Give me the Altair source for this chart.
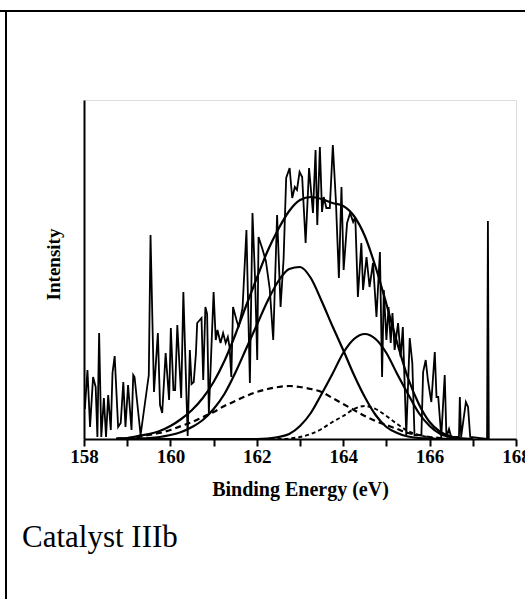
import altair as alt
import pandas as pd

# ---- noisy spectrum (binding energy eV, intensity) ----
spec_ev = [158.02, 158.08, 158.14, 158.21, 158.27, 158.31, 158.35, 158.40, 158.46, 158.51,
           158.56, 158.62, 158.66, 158.71, 158.79, 158.85, 158.91, 158.96, 159.02, 159.10,
           159.14, 159.17, 159.31, 159.50, 159.54, 159.62, 159.71, 159.76, 159.81, 159.89,
           159.97, 160.01, 160.07, 160.11, 160.16, 160.25, 160.30, 160.40, 160.45, 160.49,
           160.54, 160.59, 160.62, 160.68, 160.72, 160.76, 160.81, 160.85, 160.89, 161.00,
           161.05, 161.09, 161.16, 161.22, 161.28, 161.33, 161.37, 161.41, 161.45, 161.53,
           161.58, 161.67, 161.76, 161.84, 161.90, 161.96, 162.01, 162.04, 162.13, 162.21,
           162.30, 162.38, 162.47, 162.55, 162.62, 162.68, 162.76, 162.82, 162.88, 162.93,
           162.99, 163.05, 163.13, 163.21, 163.30, 163.36, 163.40, 163.46, 163.51, 163.55,
           163.61, 163.69, 163.76, 163.83, 163.90, 163.96, 164.01, 164.09, 164.16, 164.23,
           164.28, 164.34, 164.42, 164.46, 164.54, 164.61, 164.69, 164.77, 164.85, 164.90,
           164.94, 165.00, 165.05, 165.10, 165.14, 165.19, 165.27, 165.33, 165.38, 165.46,
           165.54, 165.60, 165.65, 165.81, 165.85, 165.91, 165.96, 166.04, 166.12, 166.16,
           166.20, 166.27, 166.35, 166.39, 166.45, 166.50, 166.68, 166.70, 166.73, 166.84,
           166.89, 166.94, 167.33, 167.35, 167.37]
spec_int = [30, 69, 12, 62, 52, 2, 106, 2, 41, 2,
            44, 9, 66, 83, 12, 16, 57, 12, 54, 9,
            64, 62, 4, 64, 204, 47, 106, 34, 26, 86,
            39, 111, 49, 49, 114, 41, 147, 3, 89, 55,
            57, 85, 116, 119, 121, 59, 132, 125, 26, 147,
            99, 109, 96, 106, 96, 102, 92, 62, 132, 119,
            112, 131, 209, 56, 226, 160, 79, 202, 190, 178,
            150, 99, 224, 132, 180, 261, 271, 241, 252, 249,
            267, 262, 196, 271, 226, 289, 214, 292, 227, 242,
            231, 231, 294, 239, 161, 252, 169, 216, 226, 217,
            222, 142, 196, 149, 182, 152, 176, 122, 187, 62,
            149, 99, 132, 96, 126, 89, 116, 82, 112, 4,
            101, 76, 4, 4, 67, 79, 59, 37, 87, 42,
            42, 2, 64, 2, 10, 2, 2, 42, 2, 37,
            32, 2, 0, 218, 0]

# ---- fitted curves, read every 0.25 eV ----
fit_ev = [158.75, 159.0, 159.25, 159.5, 159.75, 160.0, 160.25, 160.5, 160.75, 161.0,
          161.25, 161.5, 161.75, 162.0, 162.25, 162.5, 162.75, 163.0, 163.25, 163.5,
          163.75, 164.0, 164.25, 164.5, 164.75, 165.0, 165.25, 165.5, 165.75, 166.0,
          166.25, 166.5, 166.75, 167.0]
envelope = [0.5, 1, 3, 5, 8, 13, 20, 29, 41, 57,
            78, 104, 133, 161, 188, 210, 228, 239, 242, 240,
            236, 233, 223, 203, 172, 135, 96, 61, 35, 17,
            7, 2.5, 0.5, 0]
peak_a = [0, 0.3, 0.6, 1, 2, 4, 7, 12, 19, 30,
          45, 66, 90, 114, 138, 158, 170, 172, 161, 138,
          113, 89, 64, 42, 24, 12, 6, 2.5, 1, 0.4,
          0.2, 0, 0, 0]
peak_b = [0, 0, 0, 0, 0, 0, 0, 0, 0, 0,
          0, 0, 0, 0, 0.5, 2, 5, 13, 26, 45,
          65, 86, 100, 105, 100, 86, 65, 45, 26, 13,
          5, 2, 0.5, 0]
peak_c = [0.5, 1, 2, 4, 6, 9, 13, 17, 22, 27,
          33, 38, 43, 47, 50, 52, 53, 52, 50, 47,
          41, 35, 29, 23, 18, 14, 10, 6, 4, 2,
          1, 0.5, 0, 0]
peak_d = [0, 0, 0, 0, 0, 0, 0, 0, 0, 0,
          0, 0, 0, 0, 0, 0, 0.5, 2, 5, 10,
          17, 23, 30, 33, 30, 23, 15, 8, 4, 1.5,
          0.5, 0, 0, 0]

tick_values = [158, 158.5, 159, 159.5, 160, 160.5, 161, 161.5, 162, 162.5, 163,
               163.5, 164, 164.5, 165, 165.5, 166, 166.5, 167, 167.5, 168]

SERIF = "Liberation Serif"

spec_df = pd.DataFrame({"ev": spec_ev, "intensity": spec_int})
fit_df = pd.DataFrame({"ev": fit_ev, "env": envelope, "a": peak_a, "b": peak_b,
                       "c": peak_c, "d": peak_d})

xscale = alt.Scale(domain=[158, 168], nice=False, zero=False)
yscale = alt.Scale(domain=[0, 339], nice=False, zero=True)

xaxis = alt.Axis(values=tick_values, title="Binding Energy (eV)",
                 labelExpr="datum.value % 2 === 0 ? datum.label : ''",
                 format="d", labelOverlap=False, labelBound=False, labelFlush=False,
                 grid=False, domainColor="black", domainWidth=2, tickColor="black",
                 tickWidth=2, tickSize=7, labelFont=SERIF, labelFontWeight="bold",
                 labelFontSize=19, labelColor="black", labelPadding=1,
                 titleFont=SERIF, titleFontWeight="bold", titleFontSize=20,
                 titleColor="black", titlePadding=13)
yaxis = alt.Axis(title="Intensity", ticks=False, labels=False, grid=False,
                 domainColor="black", domainWidth=2, titleFont=SERIF,
                 titleFontWeight="bold", titleFontSize=19, titleColor="black",
                 titlePadding=21, titleY=164)

spectrum = alt.Chart(spec_df).mark_line(color="black", strokeWidth=1.8).encode(
    x=alt.X("ev:Q", scale=xscale, axis=xaxis),
    y=alt.Y("intensity:Q", scale=yscale, axis=yaxis),
)

def curve(col, dash=None, width=2.2):
    kw = dict(color="black", strokeWidth=width, interpolate="monotone")
    if dash is not None:
        kw["strokeDash"] = dash
    return alt.Chart(fit_df).mark_line(**kw).encode(
        x=alt.X("ev:Q", scale=xscale), y=alt.Y(f"{col}:Q", scale=yscale))

env_line = curve("env")
a_line = curve("a")
b_line = curve("b")
c_line = curve("c", dash=[6, 4])
d_line = curve("d", dash=[4, 3], width=1.9)

frame_top = alt.Chart(spec_df).mark_rule(color="black", strokeWidth=2).encode(
    x=alt.value(-84), x2=alt.value(441), y=alt.value(-89))
frame_left = alt.Chart(spec_df).mark_rule(color="black", strokeWidth=2).encode(
    x=alt.value(-78), y=alt.value(-89), y2=alt.value(499))

label = alt.Chart(pd.DataFrame({"t": ["Catalyst IIIb"]})).mark_text(
    align="left", baseline="alphabetic", font=SERIF, fontSize=31, color="black"
).encode(x=alt.value(-62), y=alt.value(447), text="t:N")

chart = alt.layer(spectrum, c_line, d_line, a_line, b_line, env_line,
                  frame_top, frame_left, label).properties(
    width=432, height=339,
    autosize=alt.AutoSizeParams(type="none"),
    padding={"left": 84, "top": 100, "right": 9, "bottom": 160},
).configure_view(stroke=None).configure(background="white")

chart.save("out.html", embed_options={"renderer": "svg", "actions": False})
